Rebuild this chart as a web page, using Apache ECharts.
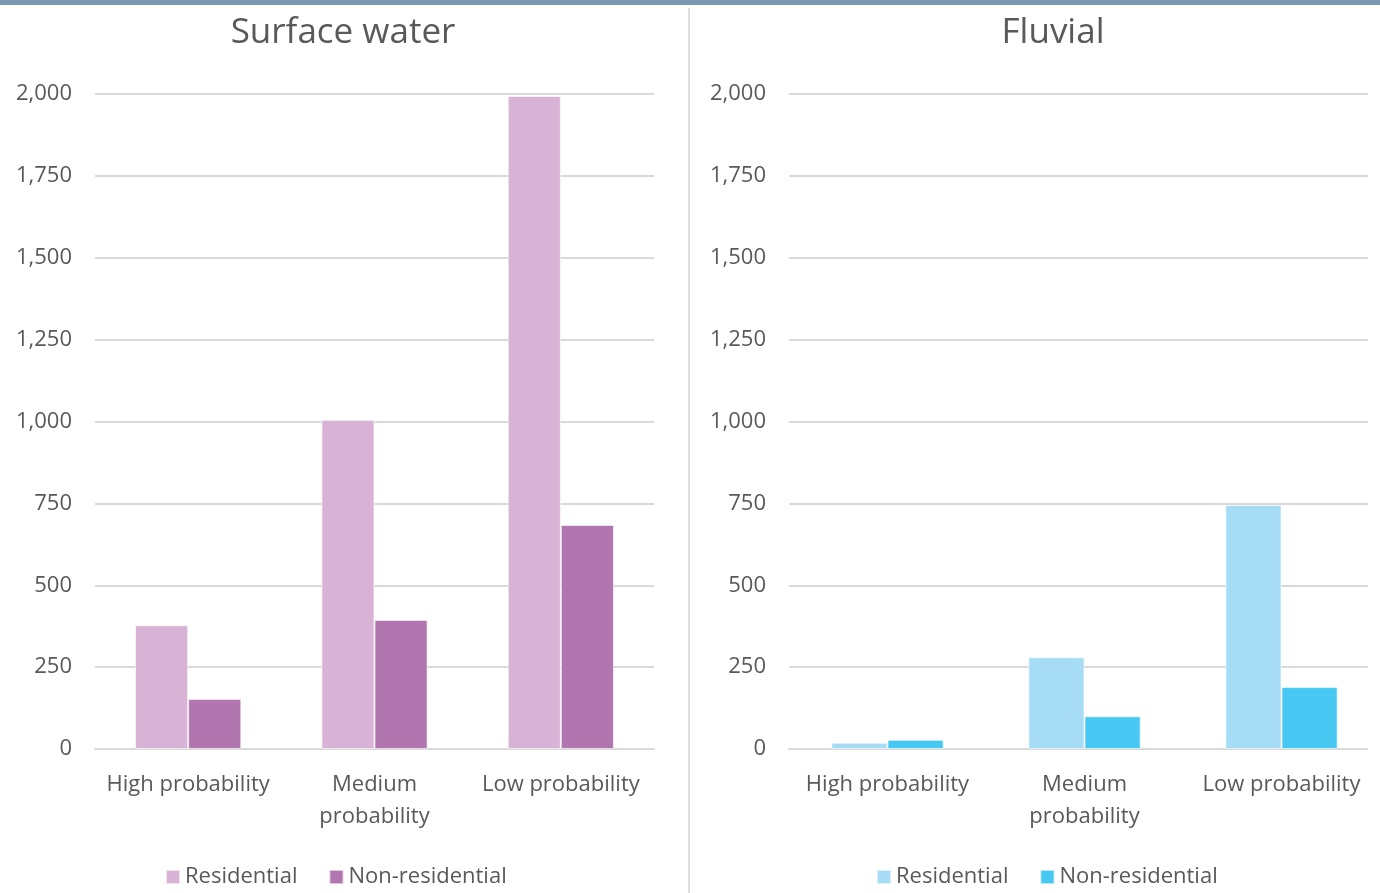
<!DOCTYPE html>
<html>
<head>
<meta charset="utf-8">
<script src="https://cdn.jsdelivr.net/npm/echarts@6/dist/echarts.min.js"></script>
<style>
  body { margin: 0; background: #fff; }
  #topbar { position: absolute; left: 0; top: 0; width: 1380px; height: 5px; background: #7a96b0; }
  #divider { position: absolute; left: 688px; top: 8px; width: 2px; height: 885px; background: #dedede; }
  #surface { position: absolute; left: 0; top: 5px; width: 688px; height: 888px; }
  #fluvial { position: absolute; left: 690px; top: 5px; width: 690px; height: 888px; }
</style>
</head>
<body>
<div id="topbar"></div>
<div id="divider"></div>
<div id="surface"></div>
<div id="fluvial"></div>
<script>
var categories = ['High probability', 'Medium\nprobability', 'Low probability'];
var seriesNames = ['Residential', 'Non-residential'];
var surfaceResidential = [378, 1005, 1994];
var surfaceNonResidential = [153, 394, 684];
var fluvialResidential = [19, 280, 745];
var fluvialNonResidential = [28, 100, 189];

var FONT = 'Open Sans';
var TEXT = '#595959';

// 单个柱状图
function barChart(domId, title, titleX, gridLeft, gridRight, lineEnd, legendX, colors, resData, nonResData){
    var option = {
        backgroundColor: '#fff',
        animation: false,
        color: colors,
        title: {
            text: title,
            left: titleX,
            top: 6,
            textAlign: 'center',
            textStyle: { color: TEXT, fontFamily: FONT, fontSize: 35, fontWeight: 'normal' }
        },
        legend: {
            data: seriesNames,
            left: legendX,
            top: 856,
            itemWidth: 14,
            itemHeight: 14,
            itemGap: 31,
            icon: 'rect',
            selectedMode: false,
            textStyle: { color: TEXT, fontFamily: FONT, fontSize: 22 }
        },
        grid: {
            left: gridLeft,
            right: gridRight,
            top: 89,
            bottom: 144
        },
        xAxis: {
            type: 'category',
            data: categories,
            axisTick: { show: false },
            axisLine: { lineStyle: { color: '#d9d9d9', width: 2 } },
            axisLabel: {
                color: TEXT, fontFamily: FONT, fontSize: 22,
                margin: 20, lineHeight: 32, interval: 0
            }
        },
        yAxis: {
            type: 'value',
            min: 0,
            max: 2000,
            interval: 250,
            axisLine: { show: false },
            axisTick: { show: false },
            splitLine: { lineStyle: { color: '#d9d9d9', width: 2 } },
            axisLabel: {
                color: TEXT, fontFamily: FONT, fontSize: 22, margin: 23,
                formatter: function (v) { return v.toLocaleString('en-US'); }
            }
        },
        // 右图网格线在画面边缘被截断
        graphic: lineEnd ? [{
            type: 'rect',
            shape: { x: lineEnd, y: 80, width: 40, height: 680 },
            style: { fill: '#fff' },
            z: 100
        }] : [],
        series: [
            {
                name: seriesNames[0],
                type: 'bar',
                data: resData,
                barGap: '0%',
                barCategoryGap: '43%',
                itemStyle: { borderColor: 'rgba(255,255,255,0.6)', borderWidth: 1 }
            },
            {
                name: seriesNames[1],
                type: 'bar',
                data: nonResData,
                barGap: '0%',
                barCategoryGap: '43%',
                itemStyle: { borderColor: 'rgba(255,255,255,0.6)', borderWidth: 1 }
            }
        ]
    };
    var myChart = echarts.init(document.getElementById(domId));
    myChart.setOption(option);
}

barChart('surface', 'Surface water', 338, 95, 34, 0, 160, ['#d9b3d6', '#b175b0'],
    surfaceResidential, surfaceNonResidential);
barChart('fluvial', 'Fluvial', 358, 99, 0, 678, 181, ['#a6dcf5', '#47c8f3'],
    fluvialResidential, fluvialNonResidential);
</script>
</body>
</html>
